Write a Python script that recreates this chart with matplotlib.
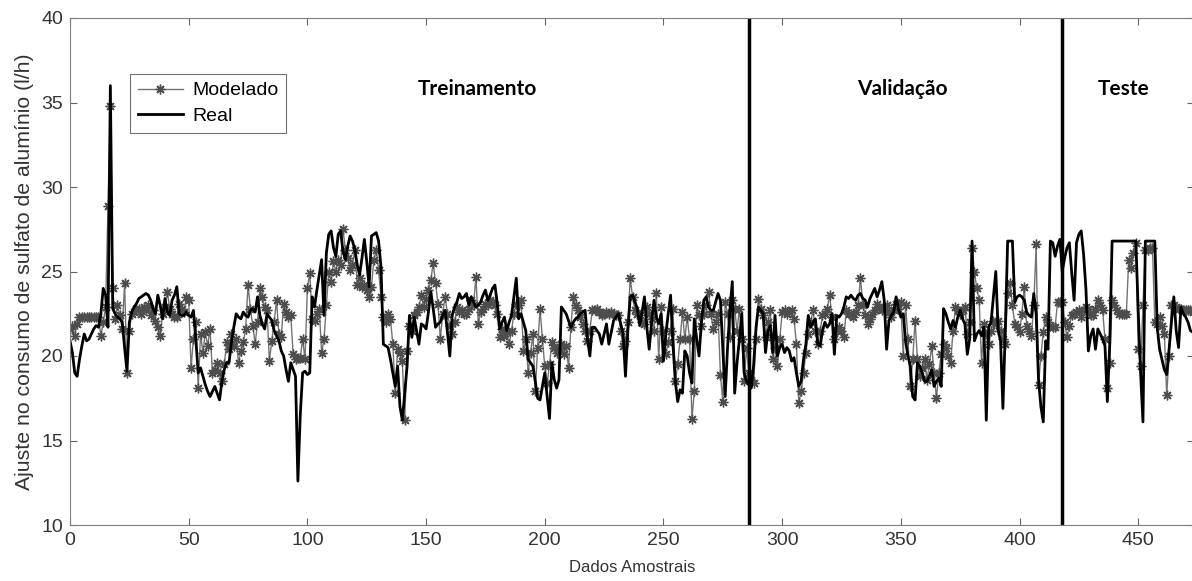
import numpy as np
import matplotlib
matplotlib.use("Agg")
import matplotlib.pyplot as plt

plt.rcParams["font.family"] = ["Liberation Sans", "DejaVu Sans"]

# series values, one per sample (index = sample number)
real = [
    20.9, 20.2, 19.0, 18.8, 19.8, 20.6, 21.3, 20.9, 21.0, 21.3,
    21.6, 21.8, 21.7, 22.5, 24.0, 23.6, 21.7, 36.0, 22.8, 22.5,
    22.3, 22.2, 22.0, 20.5, 19.1, 22.0, 22.6, 22.9, 23.1, 23.4,
    23.5, 23.6, 23.7, 23.6, 23.3, 22.8, 22.5, 23.6, 23.0, 22.2,
    23.4, 22.6, 22.4, 23.3, 23.6, 24.1, 22.5, 22.4, 22.4, 22.6,
    22.4, 22.3, 22.7, 21.0, 19.0, 19.3, 18.8, 18.3, 17.9, 17.6,
    17.9, 18.2, 17.8, 17.4, 18.5, 19.2, 19.6, 19.6, 20.8, 21.7,
    22.5, 22.3, 22.2, 22.6, 22.4, 22.3, 22.7, 22.8, 22.6, 23.5,
    22.4, 21.9, 21.6, 22.5, 22.3, 22.1, 21.5, 21.2, 20.9, 20.3,
    20.0, 19.2, 18.5, 19.6, 19.2, 18.8, 12.6, 16.5, 19.0, 19.1,
    18.9, 19.0, 23.5, 22.9, 23.9, 24.8, 25.7, 22.4, 26.1, 27.2,
    27.4, 26.4, 25.9, 27.2, 27.4, 26.2, 25.7, 26.5, 27.1, 26.8,
    26.3, 25.4, 24.8, 25.8, 26.9, 25.6, 24.1, 27.1, 27.2, 27.3,
    26.8, 25.3, 20.7, 20.6, 20.5, 19.8, 19.0, 18.2, 19.4, 17.0,
    16.2, 17.8, 19.4, 22.4, 21.1, 22.3, 21.5, 20.7, 21.9, 21.8,
    21.6, 22.6, 23.8, 22.8, 21.7, 21.9, 22.0, 22.4, 22.7, 21.4,
    20.0, 22.4, 22.9, 23.2, 23.7, 23.4, 23.5, 23.7, 23.0, 23.5,
    23.2, 22.9, 23.0, 23.2, 23.6, 23.9, 23.3, 23.6, 24.0, 24.2,
    23.1, 21.6, 22.0, 22.3, 21.5, 22.0, 22.4, 23.5, 24.6, 22.2,
    22.5, 22.0, 21.5, 19.8, 19.6, 19.4, 18.5, 17.5, 17.4, 18.2,
    19.0, 17.6, 16.3, 19.6, 18.6, 18.1, 18.6, 22.9, 22.7, 22.5,
    22.1, 21.7, 22.0, 22.2, 22.3, 22.5, 22.6, 22.7, 21.0, 20.0,
    21.7, 21.7, 21.5, 21.3, 20.7, 21.3, 21.9, 20.7, 21.4, 22.1,
    22.3, 22.5, 21.9, 21.3, 18.8, 21.5, 23.5, 23.6, 23.2, 22.8,
    21.8, 22.6, 23.5, 21.7, 20.4, 22.0, 23.3, 22.3, 21.9, 22.5,
    19.7, 21.3, 22.5, 23.6, 20.7, 18.5, 17.3, 18.0, 17.8, 20.3,
    20.0, 19.0, 18.4, 22.2, 21.0, 20.0, 22.0, 23.3, 23.5, 22.9,
    22.7, 22.7, 23.2, 23.7, 23.3, 20.5, 17.6, 20.5, 22.7, 24.4,
    17.8, 19.6, 21.0, 22.5, 19.0, 18.5, 18.3, 18.1, 19.5, 21.7,
    22.9, 22.7, 22.5, 20.2, 21.5, 21.8, 20.2, 22.4, 20.0, 20.5,
    20.7, 20.2, 20.5, 20.3, 19.7, 19.9, 19.0, 18.2, 18.5, 19.8,
    20.7, 22.4, 21.7, 22.0, 22.2, 20.7, 20.6, 21.5, 22.0, 21.7,
    21.9, 22.5, 20.1, 22.4, 22.3, 22.5, 22.9, 23.5, 23.4, 23.6,
    23.4, 23.3, 23.6, 23.7, 23.4, 23.3, 22.9, 23.4, 23.7, 24.0,
    23.5, 23.9, 24.4, 23.3, 20.4, 22.1, 22.4, 22.6, 23.5, 22.8,
    22.3, 22.5, 20.9, 20.0, 19.4, 17.6, 17.4, 19.6, 19.4, 19.0,
    18.5, 18.5, 18.8, 19.2, 18.2, 18.5, 18.7, 18.2, 22.8, 22.5,
    22.0, 21.6, 22.1, 21.7, 22.3, 22.7, 22.2, 21.9, 20.1, 21.0,
    26.8, 20.9, 21.3, 21.5, 21.2, 21.7, 16.2, 21.7, 22.0, 23.5,
    25.0, 21.5, 20.9, 16.9, 21.5, 26.8, 26.8, 26.8, 23.2, 23.5,
    23.6, 23.5, 23.3, 22.6, 22.4, 22.3, 23.7, 22.5, 18.6, 17.0,
    16.1, 20.9, 20.4, 26.8, 26.7, 25.9, 26.5, 26.9, 25.0, 25.8,
    26.4, 26.7, 24.9, 23.3, 26.7, 27.2, 27.4, 26.0, 23.9, 20.3,
    21.2, 21.6, 20.4, 21.6, 21.3, 21.0, 20.6, 17.3, 20.7, 26.8,
    26.8, 26.8, 26.8, 26.8, 26.8, 26.8, 26.8, 26.8, 26.8, 26.8,
    22.7, 19.0, 16.1, 26.8, 26.8, 26.8, 26.8, 26.8, 21.7, 20.4,
    19.8, 19.2, 18.9, 20.4, 22.0, 23.5, 21.5, 20.5, 22.9, 22.5,
    22.3, 22.0, 21.5, 21.4, 21.4,
]

modelado = [
    21.6, 21.8, 21.2, 21.9, 22.3, 22.3, 22.3, 22.3, 22.3, 22.3,
    22.3, 22.3, 22.3, 21.2, 22.0, 22.9, 28.9, 34.8, 24.0, 22.2,
    23.0, 22.4, 21.6, 24.3, 19.0, 21.5, 22.5, 22.6, 22.8, 22.8,
    22.5, 22.9, 22.7, 23.0, 22.4, 22.7, 22.1, 21.7, 21.2, 22.5,
    22.9, 23.8, 22.8, 22.5, 22.3, 22.3, 23.1, 22.8, 22.6, 23.5,
    23.3, 19.3, 21.0, 22.0, 18.1, 21.3, 20.2, 21.4, 20.6, 21.6,
    19.0, 19.2, 19.6, 19.0, 18.5, 19.5, 20.8, 20.4, 21.3, 20.6,
    21.0, 19.6, 20.3, 20.8, 21.6, 24.2, 22.8, 21.8, 20.7, 22.0,
    24.0, 23.5, 22.9, 22.7, 19.7, 20.9, 22.0, 23.3, 21.3, 21.1,
    23.1, 22.6, 22.3, 22.4, 20.1, 19.8, 19.9, 19.9, 21.0, 19.8,
    24.0, 24.9, 22.2, 22.1, 22.5, 22.8, 20.2, 21.0, 23.0, 25.0,
    24.4, 25.6, 25.0, 25.7, 25.4, 27.5, 26.3, 25.8, 25.1, 25.4,
    26.3, 24.2, 24.6, 24.1, 24.2, 23.9, 23.5, 24.1, 25.7, 26.3,
    25.1, 23.5, 22.3, 22.0, 22.5, 22.2, 20.7, 17.8, 20.4, 20.2,
    19.7, 16.2, 20.3, 21.8, 21.5, 22.4, 22.6, 22.9, 23.6, 22.9,
    23.4, 23.9, 24.5, 25.5, 24.3, 23.1, 21.0, 22.5, 23.5, 22.5,
    21.8, 21.3, 22.0, 22.9, 22.6, 22.7, 22.5, 22.5, 22.8, 23.3,
    23.0, 24.7, 21.9, 22.6, 22.8, 23.1, 23.0, 23.3, 23.2, 23.0,
    22.5, 21.1, 21.6, 21.2, 21.4, 20.7, 21.5, 22.5, 23.1, 23.0,
    23.3, 20.3, 21.0, 19.0, 20.2, 21.3, 17.9, 20.5, 22.8, 21.0,
    19.4, 18.4, 19.5, 20.8, 20.5, 20.2, 20.5, 20.7, 20.1, 20.6,
    19.3, 21.7, 23.5, 23.0, 22.7, 22.3, 21.9, 21.5, 20.9, 21.5,
    22.7, 22.7, 22.8, 22.6, 22.4, 22.5, 22.6, 22.5, 22.6, 22.5,
    22.4, 22.4, 21.5, 20.6, 20.9, 22.0, 24.6, 23.5, 22.7, 22.5,
    22.4, 22.0, 21.9, 22.9, 22.5, 22.2, 21.5, 23.7, 19.8, 22.9,
    21.5, 20.1, 20.8, 21.5, 22.8, 18.5, 19.5, 21.0, 22.6, 21.0,
    22.3, 21.0, 16.3, 17.9, 23.0, 22.4, 21.8, 22.5, 23.0, 23.8,
    22.5, 21.6, 22.0, 22.5, 18.9, 17.3, 23.2, 22.5, 21.1, 23.3,
    22.8, 21.5, 22.8, 21.0, 18.5, 20.5, 19.0, 18.6, 18.4, 21.0,
    23.4, 22.8, 22.4, 21.1, 22.0, 22.7, 19.8, 20.5, 19.4, 21.0,
    22.6, 22.7, 22.5, 22.6, 22.7, 22.2, 20.7, 17.2, 17.9, 19.0,
    20.2, 21.3, 22.0, 22.7, 21.5, 20.7, 21.5, 22.4, 22.5, 22.8,
    23.6, 22.3, 21.0, 21.5, 21.7, 21.5, 21.1, 22.7, 22.5, 22.5,
    22.3, 22.6, 23.0, 24.6, 23.0, 22.4, 21.9, 22.2, 22.5, 22.7,
    23.1, 22.9, 22.7, 22.8, 23.0, 22.6, 22.3, 22.7, 23.1, 22.8,
    23.2, 20.0, 23.0, 21.0, 18.2, 19.8, 22.1, 19.8, 18.8, 19.3,
    19.8, 18.6, 19.5, 20.6, 19.0, 17.5, 19.0, 20.1, 20.7, 20.5,
    20.0, 19.6, 21.5, 22.9, 22.7, 22.5, 22.7, 22.9, 21.3, 22.0,
    26.4, 25.0, 24.0, 23.3, 19.6, 21.9, 21.3, 20.7, 21.5, 22.1,
    21.9, 22.1, 21.5, 21.0, 20.7, 23.7, 24.3, 23.0, 21.9, 21.7,
    21.4, 22.5, 24.1, 21.8, 21.5, 21.2, 23.0, 26.6, 18.3, 20.0,
    21.4, 22.3, 22.0, 21.8, 21.7, 21.7, 23.2, 23.2, 23.2, 22.0,
    21.1, 21.8, 22.4, 22.5, 22.6, 22.7, 22.3, 22.7, 22.9, 22.8,
    22.4, 22.4, 22.8, 23.3, 23.0, 22.7, 21.0, 18.1, 19.6, 23.3,
    23.0, 22.7, 22.5, 22.5, 22.5, 22.5, 25.7, 25.2, 26.1, 26.7,
    20.4, 19.4, 23.0, 26.3, 26.3, 26.4, 26.4, 22.0, 21.9, 22.3,
    21.8, 21.3, 17.7, 20.0, 23.0, 23.0, 22.9, 22.8, 22.8, 22.7,
    22.7, 22.7, 22.7, 22.6, 22.6,
]

# split points between training / validation / test
splits = [286, 418]
phase_labels = ["Treinamento", "Validação", "Teste"]
phase_label_x = [171.5, 350.5, 444]


def draw():
    x = np.arange(len(real))
    fig = plt.figure(figsize=(11.92, 5.81), dpi=100)
    ax = fig.add_axes([70 / 1192, 56 / 581, 1124 / 1192, 507 / 581])

    # matlab-style asterisk marker
    ax.plot(x, modelado, color="0.45", lw=1.0, marker=(8, 2, 0), ms=7,
            mew=1.0, mec="0.3", label="Modelado")
    ax.plot(x, real, color="black", lw=2.0, label="Real")

    for s in splits:
        ax.axvline(s, color="black", lw=2.5)
    for lbl, lx in zip(phase_labels, phase_label_x):
        ax.text(lx, 35.8, lbl, ha="center", va="center", fontsize=15,
                fontweight="bold", family=["Lato", "DejaVu Sans"])

    ax.set_xlim(0, 473.5)
    ax.set_ylim(10, 40)
    ax.set_xticks(range(0, 451, 50))
    ax.set_yticks(range(10, 41, 5))
    ax.tick_params(direction="in", length=5, top=True, right=True,
                   labelsize=14, colors="0.4", labelcolor="0.2", pad=5)
    for sp in ax.spines.values():
        sp.set_color("0.5")
    ax.set_xlabel("Dados Amostrais", fontsize=12, color="0.2", labelpad=8)
    ax.set_ylabel("Ajuste no consumo de sulfato de alumínio (l/h)",
                  fontsize=15.3, color="0.2", labelpad=5)

    leg = ax.legend(loc="upper left", bbox_to_anchor=(0.0534, 0.8895),
                    borderaxespad=0, fontsize=14, frameon=True,
                    fancybox=False, handlelength=2.3, handletextpad=0.5,
                    borderpad=0.4, labelspacing=0.4)
    leg.get_frame().set_edgecolor("0.3")
    leg.get_frame().set_linewidth(0.8)

    plt.savefig("out.png", dpi=100)


def main():
    draw()


if __name__ == "__main__":
    main()
